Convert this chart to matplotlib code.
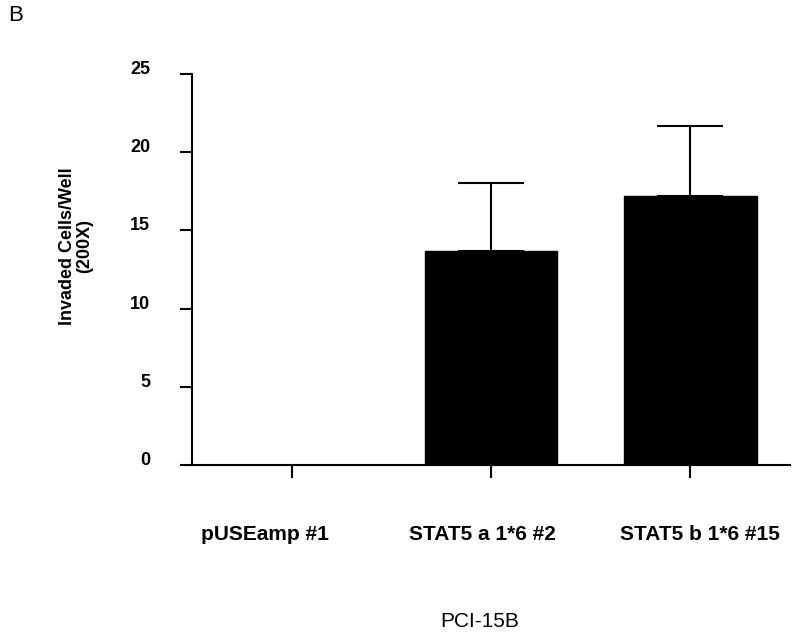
import matplotlib
matplotlib.use('Agg')
import matplotlib.pyplot as plt
import numpy as np

plt.rcParams['font.family'] = ['Liberation Sans', 'DejaVu Sans']

CATEGORIES = ['pUSEamp #1', 'STAT5 a 1*6 #2', 'STAT5 b 1*6 #15']
MEANS = [0.0, 13.7, 17.2]
ERR_UP = [0.0, 4.3, 4.5]
Y_TICKS = [0, 5, 10, 15, 20, 25]
LABEL_SHIFT = [-19, -6, 7]  # labels in the original sit a bit off their ticks


def plot_bars():
    fig = plt.figure(figsize=(8, 6.37), dpi=100)
    ax = fig.add_axes([0.24, 0.27, 0.7475, 0.6138])

    x = np.arange(len(CATEGORIES))
    ax.bar(x, MEANS, width=0.665, color='black', edgecolor='black', zorder=2)
    ax.errorbar(x[1:], MEANS[1:], yerr=[np.zeros(2), ERR_UP[1:]], fmt='none',
                ecolor='black', elinewidth=1.5, capsize=24, capthick=1.5, zorder=1)

    ax.set_xlim(-0.5, 2.5)
    ax.set_ylim(0, 25)
    ax.set_yticks(Y_TICKS)
    ax.set_yticklabels([str(t) for t in Y_TICKS], fontsize=13, fontweight='bold', va='baseline')
    ax.set_xticks(x)
    ax.set_xticklabels([])
    for xi, name, dx in zip(x, CATEGORIES, LABEL_SHIFT):
        ax.annotate(name, xy=(xi, 0), xycoords=('data', 'axes fraction'),
                    xytext=(dx, -50), textcoords='offset points', ha='center', va='center',
                    fontsize=15, fontweight='bold', annotation_clip=False)
    ax.tick_params(axis='y', length=9, width=1.5, pad=21)
    ax.tick_params(axis='x', length=9, width=1.5)

    for s in ['top', 'right']:
        ax.spines[s].set_visible(False)
    for s in ['left', 'bottom']:
        ax.spines[s].set_linewidth(1.5)

    fig.text(0.095, 1 - 246 / 637, 'Invaded Cells/Well\n(200X)', rotation=90, ha='center',
             va='center', fontsize=13, fontweight='bold', linespacing=1.05)
    fig.text(0.6, 0.025, 'PCI-15B', ha='center', va='center', fontsize=15)
    fig.text(0.01, 0.975, 'B', ha='left', va='center', fontsize=16)

    fig.savefig('out.png', dpi=100)


if __name__ == '__main__':
    plot_bars()
